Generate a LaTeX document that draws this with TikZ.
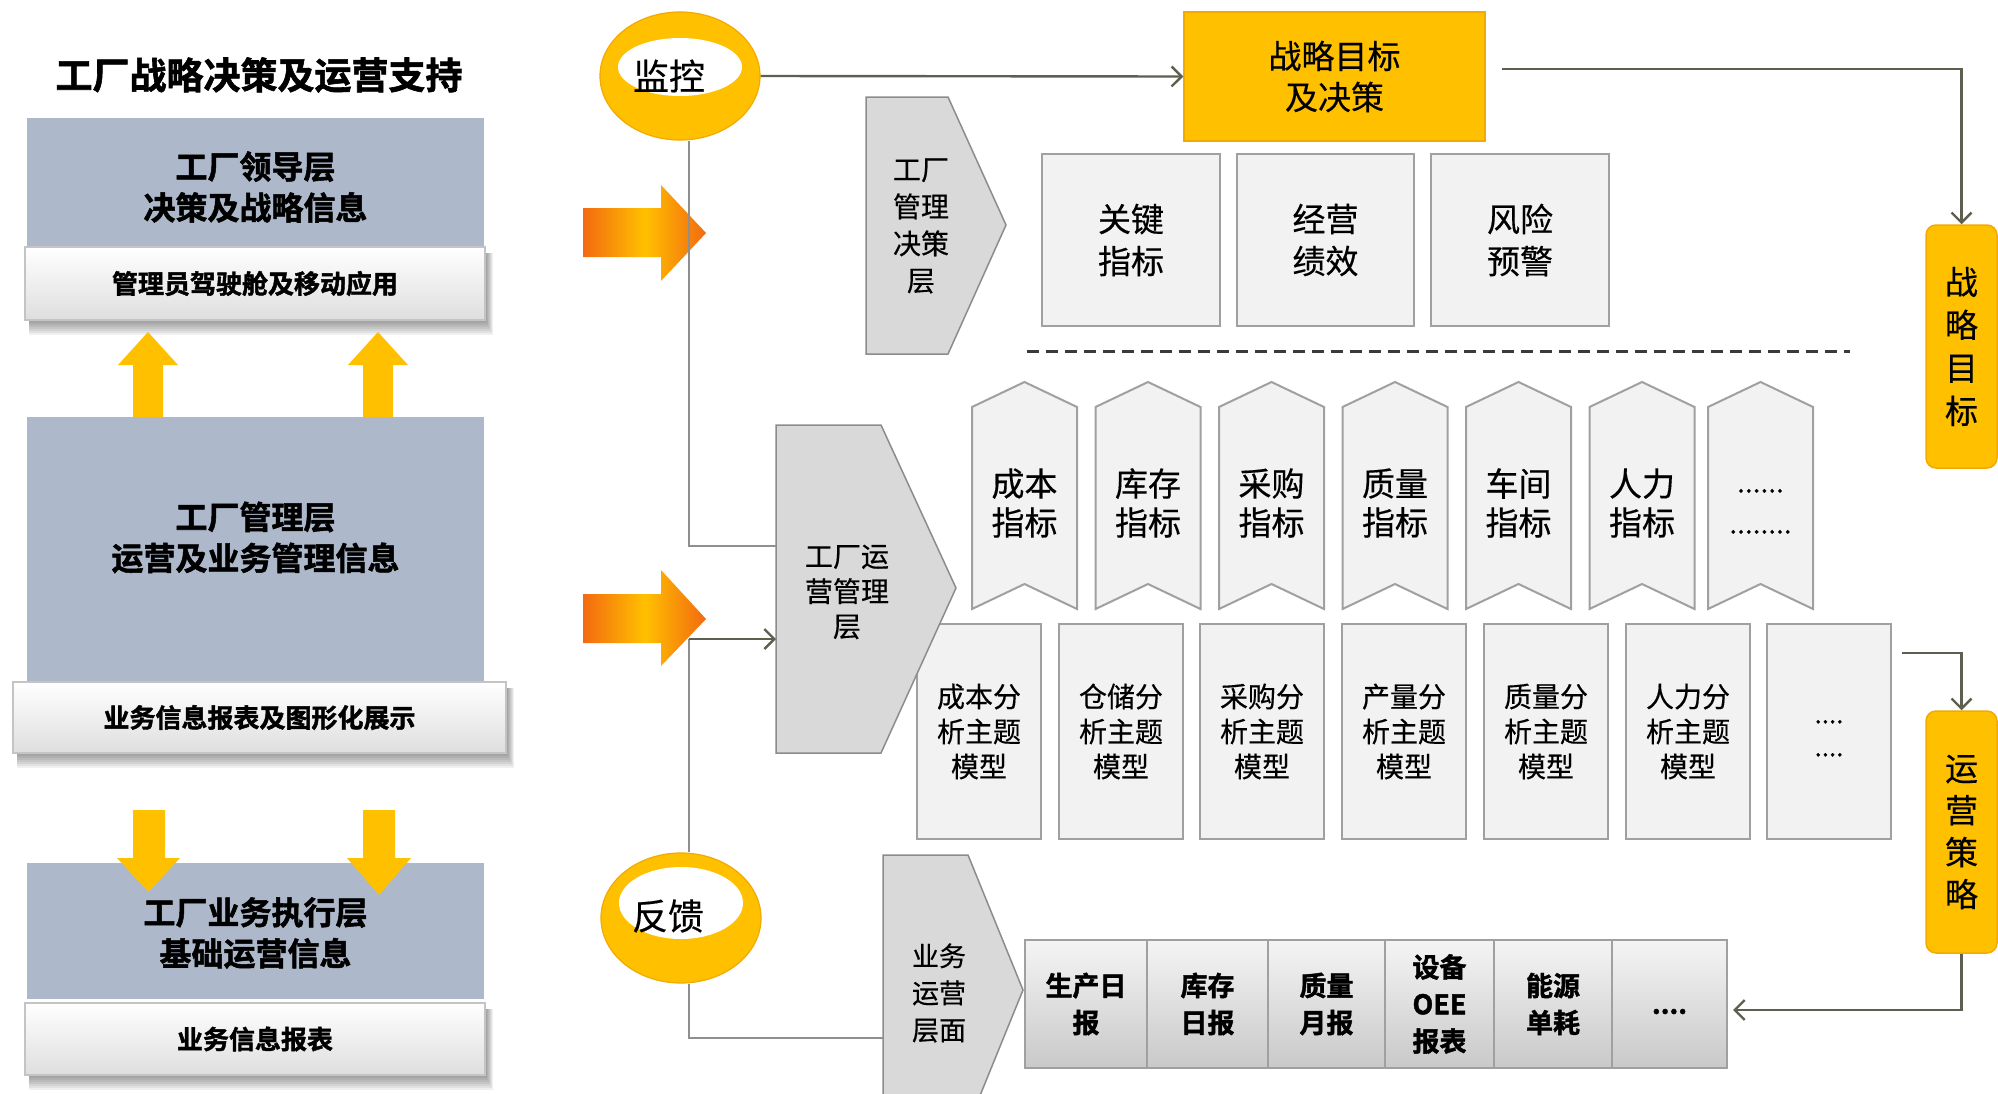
\documentclass[tikz,border=0pt]{standalone}
\usepackage{fontspec}
\setmainfont{Noto Sans CJK SC}[BoldFont={Noto Sans CJK SC Bold},BoldFeatures={FakeBold=1.6},UprightFeatures={FakeBold=0.4}]
\usetikzlibrary{shapes.geometric,arrows.meta}
\definecolor{bluegray}{HTML}{ADB8CA}
\definecolor{gold}{HTML}{FFC000}
\definecolor{goldedge}{HTML}{F2A900}
\definecolor{orng}{HTML}{F36A10}
\definecolor{chev}{HTML}{D9D9D9}
\definecolor{chevedge}{HTML}{8C8C8C}
\definecolor{boxfill}{HTML}{F2F2F2}
\definecolor{boxedge}{HTML}{A0A0A0}
\definecolor{lineolive}{HTML}{5F5F50}
\definecolor{linegray}{HTML}{8F8F8F}
\definecolor{bartop}{HTML}{FFFFFF}
\definecolor{barbot}{HTML}{DEDEDE}
\definecolor{baredge}{HTML}{C4C4C4}
\definecolor{rtop}{HTML}{F4F4F4}
\definecolor{rbot}{HTML}{C9C9C9}
\definecolor{dashcol}{HTML}{3A3A3A}
\newcommand\mybarshadow[4]{%
  \foreach \k in {1,...,7}{%
    \fill[black,opacity=0.06] (#1+4,#2+6) rectangle (#3+1+\k,#4+1+2*\k);
  }%
}
\begin{document}
\begin{tikzpicture}[x=1pt,y=-1pt,
  conn/.style={draw=lineolive, line width=2.4pt},
  vconn/.style={draw=linegray, line width=2pt},
  barb/.style={-{Straight Barb[length=10pt,width=20pt]}},
  bluebox/.style={fill=bluegray, draw=none, inner sep=0pt},
  bluetext/.style={align=center, inner sep=0pt, font=\bfseries\fontsize{32}{41}\selectfont},
  whitebar/.style={top color=bartop, bottom color=barbot, draw=baredge, line width=1.5pt, inner sep=0pt, font=\bfseries\fontsize{26}{30}\selectfont},
  kbox/.style={fill=boxfill, draw=boxedge, line width=2pt, inner sep=0pt, align=center, font=\fontsize{33}{42}\selectfont},
  mbox/.style={fill=boxfill, draw=boxedge, line width=2pt, inner sep=0pt, align=center, font=\fontsize{28}{35}\selectfont},
  rbox/.style={top color=rtop, bottom color=rbot, draw=boxedge, line width=1.5pt, inner sep=0pt, align=center, font=\bfseries\fontsize{27}{37}\selectfont},
  goldbox/.style={fill=gold, draw=goldedge, line width=1.5pt, inner sep=0pt, align=center},
  chevron/.style={fill=chev, draw=chevedge, line width=1.5pt},
  ribbon/.style={fill=boxfill, draw=boxedge, line width=2pt},
  ribtext/.style={align=center, inner sep=0pt, font=\fontsize{33}{39}\selectfont},
  chevtext/.style={align=center, inner sep=0pt},
  orb/.style={ellipse, fill=gold, draw=goldedge, line width=1.2pt, inner sep=0pt},
  orbtext/.style={inner sep=0pt, font=\fontsize{36}{40}\selectfont}
]
\fill[white] (0,0) rectangle (1998,1093);
\useasboundingbox (0,0) rectangle (1998,1093);

% ---------------- left column ----------------
\node[font=\bfseries\fontsize{37}{44}\selectfont] (title) at (259,75) {工厂战略决策及运营支持};

\node[bluebox, minimum width=457, minimum height=129] (b1) at (255.5,182.5) {};
\node[bluetext] (b1t) at (255.5,187) {工厂领导层\\决策及战略信息};
\mybarshadow{25}{247}{485}{320}
\node[whitebar, minimum width=460, minimum height=73] (w1) at (255,283.5) {管理员驾驶舱及移动应用};

\fill[gold] (133,417) -- (133,365) -- (118,365) -- (148,332) -- (178,365) -- (163,365) -- (163,417) -- cycle;
\fill[gold] (363,417) -- (363,365) -- (348,365) -- (378,332) -- (408,365) -- (393,365) -- (393,417) -- cycle;

\node[bluebox, minimum width=457, minimum height=265] (b2) at (255.5,549.5) {};
\node[bluetext] (b2t) at (255.5,537.5) {工厂管理层\\运营及业务管理信息};
\mybarshadow{13}{682}{506}{753}
\node[whitebar, minimum width=493, minimum height=71] (w2) at (259.5,717.5) {业务信息报表及图形化展示};

\node[bluebox, minimum width=457, minimum height=136] (b3) at (255.5,931) {};
\node[bluetext] (b3t) at (255.5,933) {工厂业务执行层\\基础运营信息};
\mybarshadow{25}{1003}{485}{1075}
\node[whitebar, minimum width=460, minimum height=72] (w3) at (255,1039) {业务信息报表};

\fill[gold] (133,810) -- (165,810) -- (165,858) -- (180,858) -- (148.5,892) -- (117,858) -- (133,858) -- cycle;
\fill[gold] (363,810) -- (395,810) -- (395,858) -- (411,858) -- (379,895) -- (347,858) -- (363,858) -- cycle;

% ---------------- orange arrows ----------------
\shade[left color=orng, right color=orng, middle color=gold] (583,208) -- (661,208) -- (661,185) -- (706,233) -- (661,281) -- (661,257) -- (583,257) -- cycle;
\shade[left color=orng, right color=orng, middle color=gold] (583,594) -- (661,594) -- (661,570) -- (706,619) -- (661,666) -- (661,643) -- (583,643) -- cycle;

% ---------------- orbs ----------------
\node[orb, minimum width=160, minimum height=128] (jk) at (680,76) {};
\fill[white] (680,67) ellipse [x radius=62, y radius=29];
\node[orbtext] (jkt) at (669,76) {监控};

\node[orb, minimum width=160, minimum height=130] (fk) at (681,918) {};
\fill[white] (681,903) ellipse [x radius=62, y radius=36];
\node[orbtext] (fkt) at (668,916) {反馈};

% ---------------- top row ----------------
\node[goldbox, minimum width=301, minimum height=129, font=\fontsize{33}{41}\selectfont] (zl) at (1334.5,76.5) {战略目标\\及决策};

\filldraw[chevron] (866,97) -- (948,97) -- (1006,225) -- (948,354) -- (866,354) -- cycle;
\node[chevtext, font=\fontsize{28}{37}\selectfont] (c1t) at (921,226) {工厂\\管理\\决策\\层};

\node[kbox, minimum width=178, minimum height=172] (k1) at (1131,240) {关键\\指标};
\node[kbox, minimum width=177, minimum height=172] (k2) at (1325.5,240) {经营\\绩效};
\node[kbox, minimum width=178, minimum height=172] (k3) at (1520,240) {风险\\预警};

\coordinate (dashA) at (1027,351);
\coordinate (dashB) at (1850,351);
\draw[dashcol, line width=3pt, dash pattern=on 12pt off 7pt] (dashA) -- (dashB);

% ---------------- ribbons ----------------
\foreach \c/\t [count=\i] in {1024.5/{成本\\指标}, 1148/{库存\\指标}, 1271.5/{采购\\指标}, 1395/{质量\\指标}, 1518.5/{车间\\指标}, 1642/{人力\\指标}, 1760.5/{}}{
  \filldraw[ribbon] (\c-52.5,407) -- (\c,382) -- (\c+52.5,407) -- (\c+52.5,609) -- (\c,584) -- (\c-52.5,609) -- cycle;
  \node[ribtext] (rib\i) at (\c,503) {\t};
}
\node[align=center, inner sep=0pt, font=\fontsize{28}{41}\selectfont] (ribdots) at (1760.5,503) {\vphantom{国}......\\\vphantom{国}........};

% ---------------- models ----------------
\foreach \c/\t [count=\i] in {979/{成本分\\析主题\\模型}, 1121/{仓储分\\析主题\\模型}, 1262/{采购分\\析主题\\模型}, 1404/{产量分\\析主题\\模型}, 1546/{质量分\\析主题\\模型}, 1688/{人力分\\析主题\\模型}}{
  \node[mbox, minimum width=124, minimum height=215] (m\i) at (\c,731.5) {\t};
}
\node[mbox, minimum width=124, minimum height=215] (m7) at (1829,731.5) {};
\node[align=center, inner sep=0pt, font=\fontsize{26}{33}\selectfont] (mdots) at (1829,730.5) {\vphantom{国}....\\\vphantom{国}....};

\filldraw[chevron] (776,425) -- (881,425) -- (956,588) -- (881,753) -- (776,753) -- cycle;
\node[chevtext, font=\fontsize{28}{35}\selectfont] (c2t) at (847,592) {工厂运\\营管理\\层};

% ---------------- reports ----------------
\begin{scope}
\clip (0,0) rectangle (1998,1093);
\filldraw[chevron] (883,855) -- (968,855) -- (1023,990) -- (968,1125) -- (883,1125) -- cycle;
\end{scope}
\node[chevtext, font=\fontsize{27}{37}\selectfont] (c3t) at (939,993) {业务\\运营\\层面};

\node[rbox, minimum width=122, minimum height=128] (r1) at (1086,1004) {生产日\\报};
\node[rbox, minimum width=121, minimum height=128] (r2) at (1207.5,1004) {库存\\日报};
\node[rbox, minimum width=117, minimum height=128] (r3) at (1326.5,1004) {质量\\月报};
\node[rbox, minimum width=109, minimum height=128] (r4) at (1439.5,1004) {设备\\OEE\\报表};
\node[rbox, minimum width=118, minimum height=128] (r5) at (1553,1004) {能源\\单耗};
\node[rbox, minimum width=115, minimum height=128] (r6) at (1669.5,1004) {\vphantom{国}....};

% ---------------- right side ----------------
\node[goldbox, rounded corners=10pt, minimum width=71, minimum height=243, font=\fontsize{33}{43}\selectfont] (zlmb) at (1961.5,346.5) {战\\略\\目\\标};
\node[goldbox, rounded corners=10pt, minimum width=71, minimum height=242, font=\fontsize{33}{42}\selectfont] (yycl) at (1961.5,832) {运\\营\\策\\略};

% ---------------- connectors ----------------
\coordinate (vx) at (689,0);
\coordinate (opsA) at (776,546);
\coordinate (opsB) at (776,639);
\coordinate (bizA) at (883,1038);
\draw[vconn] (jk.south -| vx) |- (opsA);
\draw[vconn] (fk.north -| vx) -- (vx |- opsB);
\draw[conn,barb] (vx |- opsB) -- (opsB);
\draw[vconn] (fk.south -| vx) |- (bizA);

\draw[conn,barb] (jk.east) -- (zl.west);
\coordinate (zlout) at (1502,69);
\draw[conn,barb] (zlout) -| (zlmb.north);
\coordinate (mout) at (1902,653);
\draw[conn,barb] (mout) -| (yycl.north);
\coordinate (rin) at (1733,1010);
\draw[conn,barb] (yycl.south) |- (rin);
\end{tikzpicture}
\end{document}
